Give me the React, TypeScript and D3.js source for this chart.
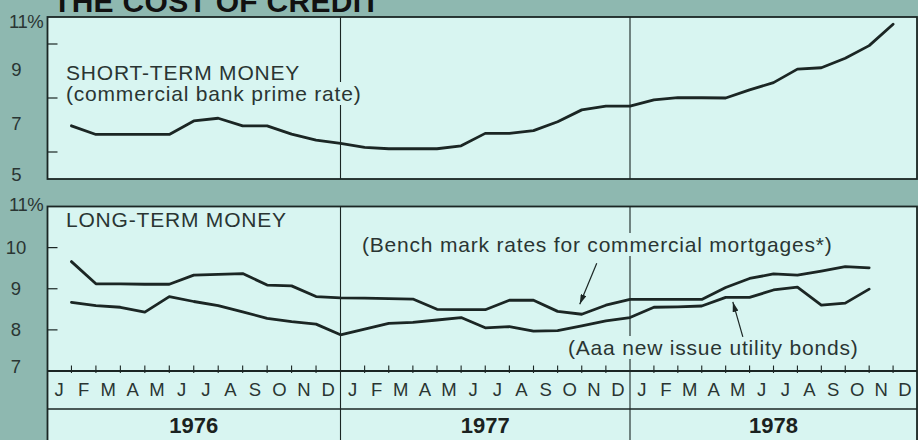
import React, { useLayoutEffect, useRef, useState } from "react";
import * as d3 from "d3";

// ---------- data ----------
const monthLabels = ["J", "F", "M", "A", "M", "J", "J", "A", "S", "O", "N", "D"];
const yearLabels = ["1976", "1977", "1978"];

// commercial bank prime rate, Jan 1976 .. Nov 1978 (month-end)
const primeRate = [
  6.97, 6.65, 6.65, 6.65, 6.65, 7.15, 7.25, 6.97, 6.97, 6.66, 6.44, 6.32,
  6.17, 6.12, 6.12, 6.12, 6.23, 6.69, 6.69, 6.79, 7.12, 7.56, 7.7, 7.7,
  7.93, 8.01, 8.01, 8.0, 8.3, 8.57, 9.07, 9.12, 9.47, 9.94, 10.73,
];
// bench mark rates for commercial mortgages, Jan 1976 .. Oct 1978
const mortgageRate = [
  9.66, 9.12, 9.12, 9.11, 9.11, 9.33, 9.35, 9.37, 9.09, 9.07, 8.81, 8.78,
  8.77, 8.76, 8.75, 8.5, 8.49, 8.49, 8.72, 8.72, 8.45, 8.38, 8.6, 8.74,
  8.74, 8.74, 8.74, 9.03, 9.25, 9.36, 9.33, 9.43, 9.54, 9.51,
];
// Aaa new issue utility bonds, Jan 1976 .. Oct 1978
const bondRate = [
  8.67, 8.59, 8.55, 8.43, 8.81, 8.69, 8.59, 8.44, 8.28, 8.2, 8.14, 7.88,
  8.02, 8.16, 8.18, 8.24, 8.3, 8.05, 8.08, 7.97, 7.98, 8.1, 8.22, 8.3,
  8.55, 8.56, 8.58, 8.79, 8.79, 8.97, 9.04, 8.6, 8.65, 8.99,
];

const topTickLabels = [11, 9, 7, 5];
const topMinorTicks = [10, 8, 6];
const bottomTickLabels = [11, 10, 9, 8, 7];
const bottomMinorTicks = [10, 9, 8];

// ---------- style ----------
const W = 918;
const H = 440;
const BG = "#8eb8b0";
const PANEL = "#d8f5f1";
const INK = "#1b2624";
const TEXT = "#2a3533";
const FONT = "'Liberation Sans', Arial, Helvetica, sans-serif";

function KnockText(props: any) {
  const { children, pad = 2, ...rest } = props;
  const ref = useRef<SVGTextElement>(null);
  const [box, setBox] = useState<any>(null);
  useLayoutEffect(() => {
    if (ref.current) {
      const b = ref.current.getBBox();
      setBox({ x: b.x, y: b.y, w: b.width, h: b.height });
    }
  }, []);
  return (
    <g>
      {box && (
        <rect x={box.x - pad} y={box.y} width={box.w + 2 * pad} height={box.h} fill={PANEL} />
      )}
      <text ref={ref} {...rest}>
        {children}
      </text>
    </g>
  );
}

export default function App() {
  const left = 47.5;
  const right = 917;
  const topY0 = 17;
  const topY1 = 179;
  const botY0 = 206.5;
  const axisY = 371;
  const monthRowY = 409;

  const x = d3.scaleLinear().domain([0, 12, 24, 36]).range([47, 340.5, 630, 917]);
  const dataX = (i: number) => x(i + 1);
  const yTop = d3.scaleLinear().domain([5, 11]).range([topY1, topY0]);
  const yBot = d3.scaleLinear().domain([7, 11]).range([axisY, botY0]);

  const lineTop = d3
    .line<number>()
    .x((_, i) => dataX(i))
    .y((d) => yTop(d));
  const lineBot = d3
    .line<number>()
    .x((_, i) => dataX(i))
    .y((d) => yBot(d));

  const yearBounds = [12, 24];
  const monthTicks = d3.range(1, 36).filter((i) => i % 12 !== 0);

  const benchTip = [dataX(21) - 2, yBot(mortgageRate[21]) - 10];
  const benchTail = [benchTip[0] + 17, benchTip[1] - 41];
  const aaaTip = [dataX(27.3), yBot(bondRate[27]) + 4.5];
  const aaaTail = [aaaTip[0] + 10, aaaTip[1] + 35];

  const labelFont = 21;
  const tickFont = 18.5;

  return (
    <svg
      width={W}
      height={H}
      style={{ position: "absolute", left: 0, top: 0, display: "block" }}
      fontFamily={FONT}
    >
      <defs>
        <marker
          id="arrow"
          viewBox="0 0 10 6"
          refX="10"
          refY="3"
          markerWidth="10"
          markerHeight="6"
          markerUnits="userSpaceOnUse"
          orient="auto"
        >
          <path d="M0,0 L10,3 L0,6 Z" fill={INK} />
        </marker>
      </defs>
      <rect x={0} y={0} width={W} height={H} fill={BG} />

      {/* title (cropped at the top, as in the source) */}
      <text x={53} y={12} fontSize={30} fontWeight="bold" fill="#111" letterSpacing={0.3}>
        THE COST OF CREDIT
      </text>

      {/* ---------- top panel ---------- */}
      <rect
        x={left}
        y={topY0}
        width={right - left}
        height={topY1 - topY0}
        fill={PANEL}
        stroke={INK}
        strokeWidth={1.8}
      />
      {yearBounds.map((b) => (
        <line key={"tv" + b} x1={x(b)} x2={x(b)} y1={topY0} y2={topY1} stroke={INK} strokeWidth={1.1} />
      ))}
      {topMinorTicks.map((v) => (
        <line key={"tm" + v} x1={left} x2={left + 10} y1={yTop(v)} y2={yTop(v)} stroke={INK} strokeWidth={1.2} />
      ))}
      {topTickLabels.map((v, i) => {
        const yy = Math.min(Math.max(yTop(v) + 5, topY0 + 11), topY1 + 2);
        return i === 0 ? (
          <text key={"tl" + v} x={9} y={yy} fontSize={tickFont} fill={TEXT} letterSpacing={-0.5}>
            {v}%
          </text>
        ) : (
          <text key={"tl" + v} x={16.5} y={yy} fontSize={tickFont} fill={TEXT} textAnchor="middle">
            {v}
          </text>
        );
      })}
      <KnockText x={66} y={80} fontSize={labelFont} fill={TEXT} letterSpacing={0.8}>
        SHORT-TERM MONEY
      </KnockText>
      <KnockText x={66} y={101} fontSize={labelFont} fill={TEXT} letterSpacing={0.8}>
        (commercial bank prime rate)
      </KnockText>
      <path
        d={lineTop(primeRate) || ""}
        fill="none"
        stroke={INK}
        strokeWidth={2.8}
        strokeLinejoin="round"
        strokeLinecap="round"
      />

      {/* ---------- bottom panel ---------- */}
      <rect
        x={left}
        y={botY0}
        width={right - left}
        height={H + 20 - botY0}
        fill={PANEL}
        stroke={INK}
        strokeWidth={1.8}
      />
      {yearBounds.map((b) => (
        <line key={"bv" + b} x1={x(b)} x2={x(b)} y1={botY0} y2={H + 5} stroke={INK} strokeWidth={1.1} />
      ))}
      {bottomMinorTicks.map((v) => (
        <line key={"bm" + v} x1={left} x2={left + 10} y1={yBot(v)} y2={yBot(v)} stroke={INK} strokeWidth={1.2} />
      ))}
      {bottomTickLabels.map((v, i) => {
        const yy = Math.min(yBot(v) + 6, axisY + 2);
        return i === 0 ? (
          <text key={"bl" + v} x={9} y={yBot(v) + 4} fontSize={tickFont} fill={TEXT} letterSpacing={-0.5}>
            {v}%
          </text>
        ) : (
          <text key={"bl" + v} x={16} y={yy} fontSize={tickFont} fill={TEXT} textAnchor="middle">
            {v}
          </text>
        );
      })}

      {/* month axis */}
      <line x1={left} x2={right} y1={axisY} y2={axisY} stroke={INK} strokeWidth={1.8} />
      {monthTicks.map((i) => (
        <line key={"mt" + i} x1={x(i)} x2={x(i)} y1={axisY - 5.5} y2={axisY + 2} stroke={INK} strokeWidth={1.1} />
      ))}
      <line x1={left} x2={right} y1={monthRowY} y2={monthRowY} stroke={INK} strokeWidth={1.4} />
      {d3.range(36).map((i) => (
        <text
          key={"ml" + i}
          x={(x(i) + x(i + 1)) / 2}
          y={396}
          fontSize={18.5}
          fill={TEXT}
          textAnchor="middle"
        >
          {monthLabels[i % 12]}
        </text>
      ))}
      {yearLabels.map((yr, k) => (
        <text
          key={"yr" + yr}
          x={(x(k * 12) + x(k * 12 + 12)) / 2}
          y={433}
          fontSize={22}
          fontWeight="bold"
          fill="#1a2220"
          textAnchor="middle"
        >
          {yr}
        </text>
      ))}

      <KnockText x={66} y={227} fontSize={labelFont} fill={TEXT} letterSpacing={0.8}>
        LONG-TERM MONEY
      </KnockText>
      <KnockText x={362} y={252} fontSize={labelFont} fill={TEXT} letterSpacing={0.8} pad={3}>
        (Bench mark rates for commercial mortgages*)
      </KnockText>
      <KnockText x={568} y={355} fontSize={labelFont} fill={TEXT} letterSpacing={0.8} pad={3}>
        (Aaa new issue utility bonds)
      </KnockText>

      <path
        d={lineBot(mortgageRate) || ""}
        fill="none"
        stroke={INK}
        strokeWidth={2.8}
        strokeLinejoin="round"
        strokeLinecap="round"
      />
      <path
        d={lineBot(bondRate) || ""}
        fill="none"
        stroke={INK}
        strokeWidth={2.8}
        strokeLinejoin="round"
        strokeLinecap="round"
      />

      {/* arrows */}
      <line
        x1={benchTail[0]}
        y1={benchTail[1]}
        x2={benchTip[0]}
        y2={benchTip[1]}
        stroke={INK}
        strokeWidth={1.2}
        markerEnd="url(#arrow)"
      />
      <line
        x1={aaaTail[0]}
        y1={aaaTail[1]}
        x2={aaaTip[0]}
        y2={aaaTip[1]}
        stroke={INK}
        strokeWidth={1.2}
        markerEnd="url(#arrow)"
      />
    </svg>
  );
}
